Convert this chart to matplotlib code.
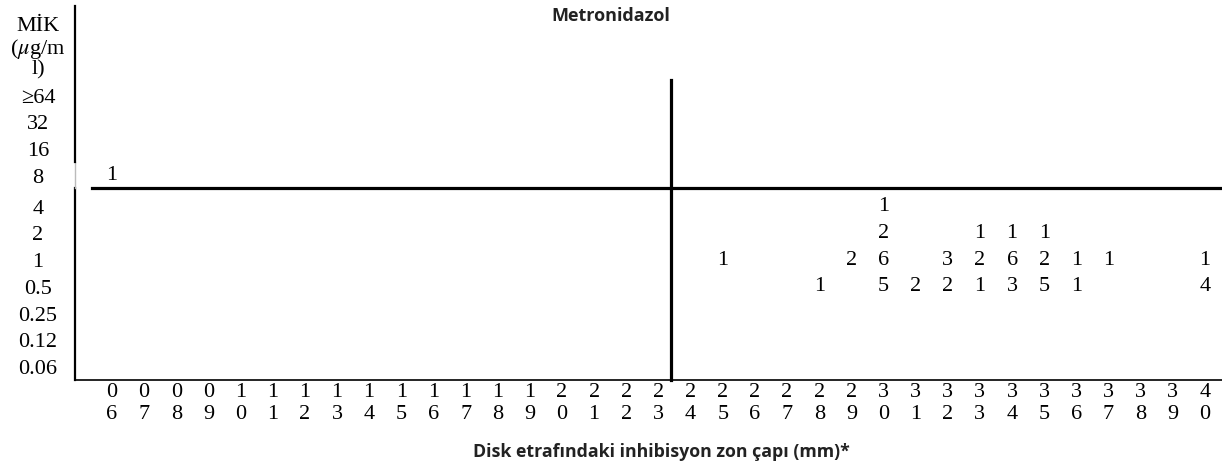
import numpy as np
import matplotlib
matplotlib.use("Agg")
import matplotlib.pyplot as plt
import matplotlib.transforms as mtransforms

plt.rcParams['font.family'] = ['Liberation Serif', 'DejaVu Serif']
plt.rcParams['mathtext.fontset'] = 'stix'

# zone diameters (mm) on the x axis
zone_mm = list(range(6, 41))
zone_labels = ['%02d' % z for z in zone_mm]

# MIC rows, bottom to top
mic_labels = ['0.06', '0.12', '0.25', '0.5', '1', '2', '4', '8', '16', '32', '≥64']

# isolate counts per (zone, MIC) cell
cell_zone = [6,
             30,
             30, 33, 34, 35,
             25, 29, 30, 32, 33, 34, 35, 36, 37, 40,
             28, 30, 31, 32, 33, 34, 35, 36, 40]
cell_mic = ['8',
            '4',
            '2', '2', '2', '2',
            '1', '1', '1', '1', '1', '1', '1', '1', '1', '1',
            '0.5', '0.5', '0.5', '0.5', '0.5', '0.5', '0.5', '0.5', '0.5']
cell_count = [1,
              1,
              2, 1, 1, 1,
              1, 2, 6, 3, 2, 6, 2, 1, 1, 1,
              1, 5, 2, 2, 1, 3, 5, 1, 4]

# breakpoints
zone_bp = 23.38   # between 23 and 24 mm
mic_bp = 6.69     # between 4 and 8 ug/ml

fig = plt.figure(figsize=(12.22, 4.65), dpi=100)
ax = fig.add_axes([75 / 1222, 85 / 465, 1 - 75 / 1222, 374 / 465])

row_idx = np.arange(len(mic_labels))
row_y = row_idx + np.where(row_idx >= 7, 0.15, 0.0)
row_pos = dict(zip(mic_labels, row_y))

fs = 16
for z, m, n in zip(cell_zone, cell_mic, cell_count):
    ax.text(z, row_pos[m], str(n), ha='center', va='center', fontsize=fs)

ax.set_xlim(4.85, 40.53)
ax.set_ylim(-0.486, 13.5)

ax.set_xticks(zone_mm)
ax.set_xticklabels(['%s\n%s' % (s[0], s[1]) for s in zone_labels],
                   fontsize=fs, linespacing=1.15)
ax.tick_params(axis='x', length=0, pad=2.5)

ax.set_yticks(row_y)
ax.set_yticklabels(mic_labels, fontsize=fs, ha='center')
ax.tick_params(axis='y', length=0, pad=26.6)

for s in ['top', 'right', 'left']:
    ax.spines[s].set_visible(False)
ax.spines['bottom'].set_linewidth(1.2)

# left axis line with the faint part beside the "8" row
ymin, ymax = ax.get_ylim()
def frac(v):
    return (v - ymin) / (ymax - ymin)
ax.axvline(4.85, ymin=0, ymax=frac(6.69), color='black', lw=1.6, clip_on=False)
ax.axvline(4.85, ymin=frac(6.69), ymax=frac(7.66), color='#bbbbbb', lw=1.0, clip_on=False)
ax.axvline(4.85, ymin=frac(7.66), ymax=1, color='black', lw=1.6, clip_on=False)

# breakpoint lines
ax.plot([5.38, 40.53], [mic_bp, mic_bp], color='black', lw=2.3, clip_on=False)
ax.plot([zone_bp, zone_bp], [-0.486, 10.72], color='black', lw=2.3, clip_on=False)

# header of the MIC column
head_tr = mtransforms.blended_transform_factory(fig.transFigure, ax.transData)
for txt, yv in [('MİK', 12.75), ('($\\mu$g/m', 11.9), ('l)', 11.1)]:
    ax.text(38 / 1222, yv, txt, transform=head_tr, ha='center', va='center',
            fontsize=fs, clip_on=False)

fig.text(611 / 1222, 1 - 16 / 465, 'Metronidazol', ha='center', va='center',
         fontsize=13, fontweight='bold', family='Open Sans', color='#222222')
fig.text(661 / 1222, 1 - 452 / 465, 'Disk etrafındaki inhibisyon zon çapı (mm)*',
         ha='center', va='center', fontsize=12.8, fontweight='bold',
         family='Open Sans', color='#222222')

fig.savefig('out.png', dpi=100)
